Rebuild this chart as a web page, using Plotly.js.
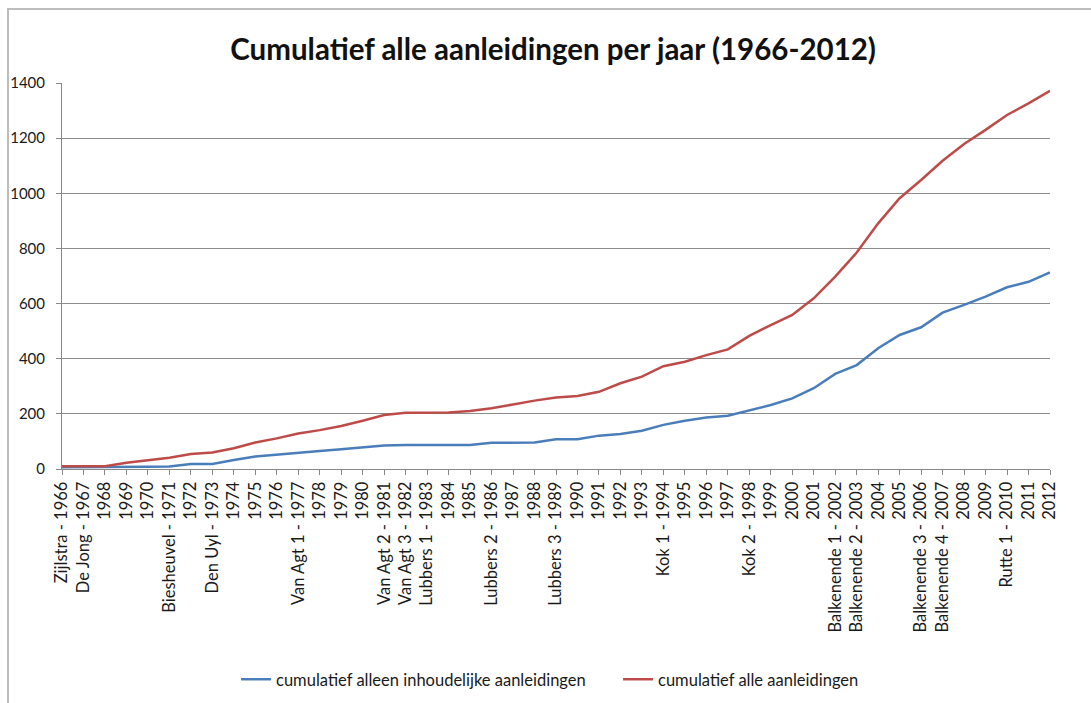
<!DOCTYPE html>
<html>
<head>
<meta charset="utf-8">
<script src="https://cdn.plot.ly/plotly-3.0.1.min.js"></script>
<style>
html,body{margin:0;padding:0;background:#fff;}
#wrap{position:relative;width:1091px;height:703px;overflow:hidden;}
#chart{position:absolute;left:0;top:0;width:1091px;height:703px;}
#frame{position:absolute;left:7px;top:8px;width:1100px;height:720px;border-left:2px solid #bdbdbd;border-top:2px solid #bdbdbd;pointer-events:none;}
</style>
</head>
<body>
<div id="wrap"><div id="chart"></div><div id="frame"></div></div>
<script>
const years = [1966,1967,1968,1969,1970,1971,1972,1973,1974,1975,1976,1977,1978,1979,1980,1981,1982,1983,1984,1985,1986,1987,1988,1989,1990,1991,1992,1993,1994,1995,1996,1997,1998,1999,2000,2001,2002,2003,2004,2005,2006,2007,2008,2009,2010,2011,2012];
const cabinets = {1966:"Zijlstra",1967:"De Jong",1971:"Biesheuvel",1973:"Den Uyl",1977:"Van Agt 1",1981:"Van Agt 2",1982:"Van Agt 3",1983:"Lubbers 1",1986:"Lubbers 2",1989:"Lubbers 3",1994:"Kok 1",1998:"Kok 2",2002:"Balkenende 1",2003:"Balkenende 2",2006:"Balkenende 3",2007:"Balkenende 4",2010:"Rutte 1"};
const tickLabels = years.map(y => cabinets[y] ? cabinets[y] + " - " + y : String(y));
const inhoudelijk = [6,6,6,8,8,9,18,18,33,45,51,59,65,72,79,85,87,87,87,87,95,96,96,108,108,121,127,139,160,175,187,193,213,232,256,293,345,377,438,486,514,567,595,625,659,679,713];
const alle = [10,10,10,23,33,41,54,60,75,96,111,129,141,156,175,196,204,205,205,210,220,234,248,259,265,280,311,335,373,389,413,434,483,522,559,619,698,785,891,982,1048,1118,1179,1230,1284,1326,1372];
const seriesNames = ["cumulatief alleen inhoudelijke aanleidingen","cumulatief alle aanleidingen"];

const traces = [
  {x: tickLabels, y: inhoudelijk, type:'scatter', mode:'lines', name: seriesNames[0], line:{color:'#4A7EBB', width:2.5}},
  {x: tickLabels, y: alle, type:'scatter', mode:'lines', name: seriesNames[1], line:{color:'#BE4B48', width:2.5}}
];
const layout = {
  width:1091, height:703,
  margin:{l:62, r:41, t:83, b:234, autoexpand:false},
  paper_bgcolor:'#fff', plot_bgcolor:'#fff',
  font:{family:'Lato, "Open Sans", sans-serif', color:'#222'},
  title:{text:'<b>Cumulatief alle aanleidingen per jaar (1966-2012)</b>', x:0.507, xanchor:'center', y:0.930, yanchor:'middle', font:{size:29.5, color:'#111', family:'Lato, sans-serif'}},
  xaxis:{type:'category', range:[0,46], tickangle:-90, ticks:'outside', ticklen:5, tickcolor:'#888', showline:true, linecolor:'#888', linewidth:1, showgrid:false, tickfont:{size:16.5, color:'#1a1a1a'}, automargin:false, fixedrange:true},
  yaxis:{range:[0,1400], dtick:200, ticks:'outside', ticklen:5, tickcolor:'#888', showline:true, linecolor:'#888', linewidth:1, showgrid:true, gridcolor:'#8c8c8c', gridwidth:1, zeroline:false, tickfont:{size:15, color:'#1a1a1a'}, ticklabelstandoff:8, automargin:false, fixedrange:true},
  showlegend:true,
  legend:{orientation:'h', x:0.5628, xanchor:'center', y:-0.5, yanchor:'top', font:{size:16.5, color:'#1a1a1a'}, bgcolor:'rgba(0,0,0,0)', entrywidth:337, entrywidthmode:'pixels'},
};
Plotly.newPlot('chart', traces, layout, {displayModeBar:false, staticPlot:true});
</script>
</body>
</html>
